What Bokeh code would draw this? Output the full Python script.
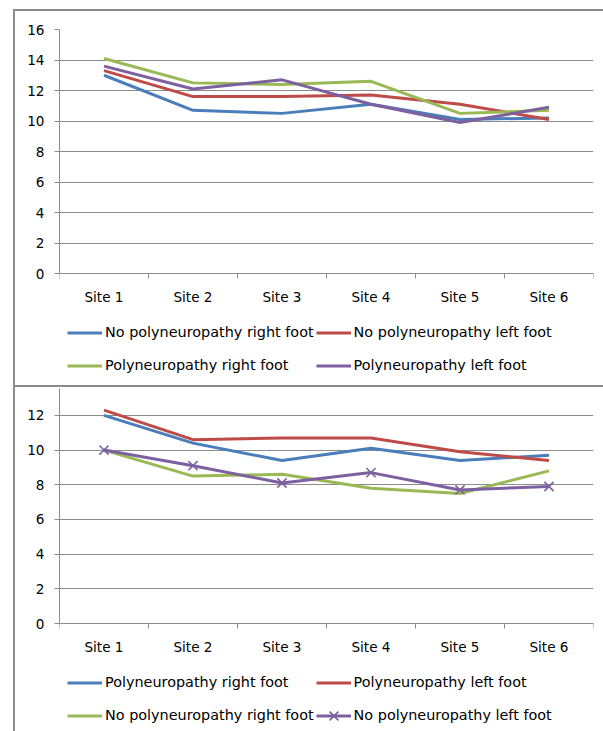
import numpy as np
from bokeh.plotting import figure
from bokeh.models import Range1d, FixedTicker, Legend, LegendItem, Div, Spacer, ColumnDataSource
from bokeh.layouts import column, row
from bokeh.embed import file_html
from bokeh.resources import INLINE

# ---------------- data ----------------
sites = ["Site 1", "Site 2", "Site 3", "Site 4", "Site 5", "Site 6"]

top_labels = ["No polyneuropathy right foot", "No polyneuropathy left foot",
              "Polyneuropathy right foot", "Polyneuropathy left foot"]
top_no_pn_right = [13.0, 10.7, 10.5, 11.1, 10.1, 10.2]
top_no_pn_left = [13.3, 11.6, 11.6, 11.7, 11.1, 10.1]
top_pn_right = [14.1, 12.5, 12.4, 12.6, 10.5, 10.7]
top_pn_left = [13.6, 12.1, 12.7, 11.1, 9.9, 10.9]
top_yticks = [0, 2, 4, 6, 8, 10, 12, 14, 16]

bottom_labels = ["Polyneuropathy right foot", "Polyneuropathy left foot",
                 "No polyneuropathy right foot", "No polyneuropathy left foot"]
bot_pn_right = [12.0, 10.4, 9.4, 10.1, 9.4, 9.7]
bot_pn_left = [12.3, 10.6, 10.7, 10.7, 9.9, 9.4]
bot_no_pn_right = [10.0, 8.5, 8.6, 7.8, 7.5, 8.8]
bot_no_pn_left = [10.0, 9.1, 8.1, 8.7, 7.7, 7.9]
bottom_yticks = [0, 2, 4, 6, 8, 10, 12]

colors = ["#4A7EBB", "#BE4B48", "#98B954", "#7D60A0"]
GREY = "#8C8C8C"
FONT = "DejaVu Sans"

n = len(sites)
centers = [i + 0.5 for i in range(n)]
bounds = [float(i) for i in range(n + 1)]


def make_panel(series, labels, y_top, yticks, height, b_top, px_axis, legend_y, marker_last=False):
    # the frame reaches the bottom of the panel so that the legend sits inside it;
    # the value axis only spans 0..y_top
    frame_h = height - b_top
    y_lo = y_top - frame_h * y_top / px_axis
    p = figure(width=588, height=height, output_backend="svg", toolbar_location=None,
               x_range=Range1d(0, n), y_range=Range1d(y_lo, y_top),
               min_border_left=44, min_border_right=10,
               min_border_top=b_top, min_border_bottom=0)
    p.outline_line_color = None
    p.background_fill_color = "white"
    p.border_fill_color = "white"
    p.xgrid.visible = False
    p.ygrid.ticker = FixedTicker(ticks=yticks)
    p.ygrid.grid_line_color = GREY
    p.ygrid.grid_line_width = 1

    src = ColumnDataSource(dict(x=centers, **{f"s{i}": s for i, s in enumerate(series)}))
    items = []
    for i, (lab, col) in enumerate(zip(labels, colors)):
        r = p.line("x", f"s{i}", source=src, line_width=3, line_color=col)
        rs = [r]
        if marker_last and i == len(series) - 1:
            m = p.scatter("x", f"s{i}", source=src, marker="x", size=13,
                          line_color=col, line_width=1.6)
            rs.append(m)
        items.append(LegendItem(label=lab, renderers=rs))

    # x axis (drawn at value 0)
    xa = p.xaxis[0]
    xa.fixed_location = 0
    xa.ticker = FixedTicker(ticks=centers, minor_ticks=bounds)
    xa.major_label_overrides = {c: s for c, s in zip(centers, sites)}
    xa.major_tick_out = 0
    xa.major_tick_in = 0
    xa.minor_tick_out = 5
    xa.minor_tick_in = 0
    xa.minor_tick_line_color = GREY
    xa.axis_line_color = GREY
    xa.major_label_standoff = 10
    # y axis
    ya = p.yaxis[0]
    ya.bounds = (0, y_top)
    ya.ticker = FixedTicker(ticks=yticks)
    ya.major_tick_out = 5
    ya.major_tick_in = 0
    ya.minor_tick_out = 0
    ya.minor_tick_in = 0
    ya.major_tick_line_color = GREY
    ya.axis_line_color = GREY
    ya.major_label_standoff = 10
    for ax in (xa, ya):
        ax.major_label_text_font = FONT
        ax.major_label_text_font_size = "13.6px"
        ax.major_label_text_color = "black"

    leg = Legend(items=items, location=(8, legend_y), orientation="horizontal", ncols=2,
                 glyph_width=35, glyph_height=31, label_standoff=3, spacing=2,
                 padding=0, margin=0, border_line_color=None, background_fill_alpha=0,
                 label_text_font=FONT, label_text_font_size="14.4px", label_text_color="black")
    p.add_layout(leg)
    return p


p1 = make_panel([top_no_pn_right, top_no_pn_left, top_pn_right, top_pn_left], top_labels,
                16, top_yticks, 374, 18, 244, 4.5)
p2 = make_panel([bot_pn_right, bot_pn_left, bot_no_pn_right, bot_no_pn_left], bottom_labels,
                13.55, bottom_yticks, 344, 1, 235, 0.5, marker_last=True)


def bar(w, h):
    return Div(width=w, height=h, margin=0, styles={"background-color": GREY})


layout = column(
    Spacer(height=9, width=603, margin=0),
    row(Spacer(width=13, height=2, margin=0), bar(590, 2), spacing=0),
    row(Spacer(width=13, height=374, margin=0), bar(2, 374), p1, spacing=0),
    row(Spacer(width=13, height=2, margin=0), bar(590, 2), spacing=0),
    row(Spacer(width=13, height=344, margin=0), bar(2, 344), p2, spacing=0),
    spacing=0,
)

open("out.html", "w").write(file_html(layout, INLINE))
